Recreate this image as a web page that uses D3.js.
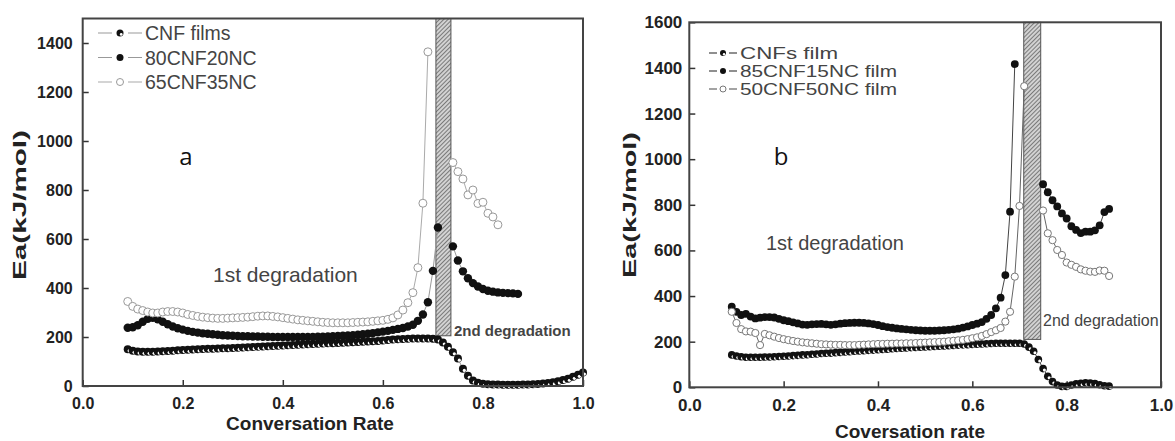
<!DOCTYPE html>
<html>
<head>
<meta charset="utf-8">
<script src="https://cdn.jsdelivr.net/npm/d3@7"></script>
<style>
body { margin: 0; background: #fff; }
svg { display: block; }
text { font-family: "Liberation Sans", Arial, sans-serif; }
</style>
</head>
<body>
<svg id="chart" width="1175" height="441"></svg>
<script>
// ---- data ----
var xTicks = [0, 0.2, 0.4, 0.6, 0.8, 1.0];
var yTicksA = [0, 200, 400, 600, 800, 1000, 1200, 1400];
var yTicksB = [0, 200, 400, 600, 800, 1000, 1200, 1400, 1600];

var namesA = ["CNF films", "80CNF20NC", "65CNF35NC"];
var namesB = ["CNFs film", "85CNF15NC film", "50CNF50NC film"];

// panel a
var cnfA = [[0.09,150],[0.10,144],[0.11,141],[0.12,140],[0.13,140],[0.14,140],[0.15,141],[0.16,142],[0.17,143],[0.18,144],
  [0.19,146],[0.20,147],[0.21,148],[0.22,149],[0.23,150],[0.24,151],[0.25,152],[0.26,152],[0.27,153],[0.28,154],
  [0.29,154],[0.30,155],[0.31,156],[0.32,157],[0.33,158],[0.34,159],[0.35,160],[0.36,161],[0.37,162],[0.38,163],
  [0.39,164],[0.40,165],[0.41,166],[0.42,167],[0.43,168],[0.44,169],[0.45,170],[0.46,171],[0.47,172],[0.48,173],
  [0.49,174],[0.50,175],[0.51,176],[0.52,177],[0.53,178],[0.54,179],[0.55,180],[0.56,181],[0.57,182],[0.58,183],
  [0.59,184],[0.60,186],[0.61,188],[0.62,190],[0.63,191],[0.64,192],[0.65,193],[0.66,194],[0.67,194],[0.68,194],
  [0.69,194],[0.70,193],[0.71,190],[0.72,178],[0.73,160],[0.74,138],[0.75,112],[0.76,70],[0.77,42],[0.78,22],
  [0.79,13],[0.80,9],[0.81,7],[0.82,6],[0.83,6],[0.84,5],[0.85,5],[0.86,5],[0.87,5],[0.88,6],
  [0.89,6],[0.90,7],[0.91,8],[0.92,10],[0.93,12],[0.94,15],[0.95,19],[0.96,24],[0.97,30],[0.98,38],
  [0.99,46],[1.00,55]];

var ncA = [[0.09,238],[0.10,240],[0.11,248],[0.12,262],[0.13,274],[0.14,278],[0.15,272],[0.16,262],[0.17,252],[0.18,243],
  [0.19,236],[0.20,230],[0.21,225],[0.22,221],[0.23,218],[0.24,215],[0.25,213],[0.26,211],[0.27,209],[0.28,207],
  [0.29,206],[0.30,205],[0.31,204],[0.32,203],[0.33,203],[0.34,202],[0.35,202],[0.36,201],[0.37,201],[0.38,200],
  [0.39,200],[0.40,200],[0.41,200],[0.42,200],[0.43,200],[0.44,200],[0.45,200],[0.46,200],[0.47,201],[0.48,201],
  [0.49,202],[0.50,203],[0.51,204],[0.52,205],[0.53,206],[0.54,207],[0.55,209],[0.56,211],[0.57,213],[0.58,216],
  [0.59,219],[0.60,222],[0.61,225],[0.62,229],[0.63,233],[0.64,237],[0.65,243],[0.66,250],[0.67,266],[0.68,292],
  [0.69,342],[0.70,470],[0.71,647],
  [0.74,570],[0.75,512],[0.76,468],[0.77,440],[0.78,420],[0.79,406],[0.80,396],[0.81,389],[0.82,385],[0.83,382],
  [0.84,380],[0.85,379],[0.86,378],[0.87,376]];

var opA = [[0.09,345],[0.10,325],[0.11,314],[0.12,308],[0.13,302],[0.14,298],[0.15,298],[0.16,302],[0.17,304],[0.18,304],
  [0.19,302],[0.20,298],[0.21,292],[0.22,288],[0.23,284],[0.24,281],[0.25,279],[0.26,277],[0.27,276],[0.28,276],
  [0.29,277],[0.30,278],[0.31,279],[0.32,280],[0.33,281],[0.34,283],[0.35,285],[0.36,286],[0.37,286],[0.38,284],
  [0.39,282],[0.40,279],[0.41,276],[0.42,273],[0.43,270],[0.44,268],[0.45,266],[0.46,264],[0.47,262],[0.48,260],
  [0.49,259],[0.50,258],[0.51,258],[0.52,258],[0.53,258],[0.54,259],[0.55,260],[0.56,261],[0.57,262],[0.58,264],
  [0.59,266],[0.60,268],[0.61,272],[0.62,278],[0.63,290],[0.64,310],[0.65,340],[0.66,381],[0.67,483],[0.68,746],
  [0.69,1364],
  [0.74,912],[0.75,875],[0.76,845],[0.77,780],[0.78,800],[0.79,745],[0.80,750],[0.81,705],[0.82,690],[0.83,658]];

// panel b
var cnfB = [[0.09,142],[0.10,137],[0.11,134],[0.12,132],[0.13,132],[0.14,132],[0.15,132],[0.16,133],[0.17,133],[0.18,134],
  [0.19,135],[0.20,136],[0.21,137],[0.22,139],[0.23,140],[0.24,142],[0.25,143],[0.26,145],[0.27,146],[0.28,148],
  [0.29,149],[0.30,150],[0.31,152],[0.32,153],[0.33,155],[0.34,156],[0.35,158],[0.36,159],[0.37,160],[0.38,162],
  [0.39,163],[0.40,165],[0.41,166],[0.42,167],[0.43,169],[0.44,170],[0.45,171],[0.46,172],[0.47,174],[0.48,175],
  [0.49,176],[0.50,177],[0.51,178],[0.52,179],[0.53,180],[0.54,181],[0.55,182],[0.56,183],[0.57,185],[0.58,186],
  [0.59,187],[0.60,188],[0.61,189],[0.62,190],[0.63,191],[0.64,192],[0.65,193],[0.66,193],[0.67,193],[0.68,193],
  [0.69,193],[0.70,193],[0.71,190],[0.72,176],[0.73,158],[0.74,122],[0.75,82],[0.76,48],[0.77,25],[0.78,10],
  [0.79,4],[0.80,4],[0.81,10],[0.82,15],[0.83,18],[0.84,20],[0.85,19],[0.86,16],[0.87,11],[0.88,7],[0.89,5]];

var ncB = [[0.09,353],[0.10,331],[0.11,317],[0.12,322],[0.13,310],[0.14,302],[0.15,305],[0.16,308],[0.17,308],[0.18,306],
  [0.19,300],[0.20,294],[0.21,290],[0.22,285],[0.23,280],[0.24,275],[0.25,274],[0.26,276],[0.27,277],[0.28,278],
  [0.29,276],[0.30,274],[0.31,276],[0.32,279],[0.33,281],[0.34,282],[0.35,283],[0.36,283],[0.37,282],[0.38,280],
  [0.39,277],[0.40,273],[0.41,268],[0.42,264],[0.43,261],[0.44,258],[0.45,256],[0.46,254],[0.47,252],[0.48,250],
  [0.49,249],[0.50,248],[0.51,248],[0.52,248],[0.53,249],[0.54,250],[0.55,252],[0.56,254],[0.57,257],[0.58,262],
  [0.59,267],[0.60,273],[0.61,279],[0.62,286],[0.63,300],[0.64,317],[0.65,346],[0.66,393],[0.67,492],[0.68,770],
  [0.69,1417],
  [0.75,890],[0.76,855],[0.77,820],[0.78,793],[0.79,762],[0.80,740],[0.81,706],[0.82,690],[0.83,676],[0.84,682],
  [0.85,682],[0.86,688],[0.87,710],[0.88,768],[0.89,782]];

var opB = [[0.09,331],[0.10,282],[0.11,255],[0.12,245],[0.13,244],[0.14,238],[0.15,185],[0.16,234],[0.17,228],[0.18,222],
  [0.19,216],[0.20,211],[0.21,207],[0.22,203],[0.23,200],[0.24,197],[0.25,195],[0.26,193],[0.27,191],[0.28,189],
  [0.29,188],[0.30,187],[0.31,186],[0.32,186],[0.33,185],[0.34,185],[0.35,185],[0.36,186],[0.37,187],[0.38,188],
  [0.39,189],[0.40,190],[0.41,190],[0.42,191],[0.43,191],[0.44,192],[0.45,192],[0.46,193],[0.47,193],[0.48,194],
  [0.49,195],[0.50,196],[0.51,197],[0.52,198],[0.53,199],[0.54,200],[0.55,202],[0.56,204],[0.57,206],[0.58,208],
  [0.59,211],[0.60,215],[0.61,219],[0.62,225],[0.63,233],[0.64,242],[0.65,250],[0.66,260],[0.67,288],[0.68,331],
  [0.69,485],[0.70,795],[0.71,1320],
  [0.75,775],[0.76,675],[0.77,645],[0.78,602],[0.79,580],[0.80,547],[0.81,537],[0.82,528],[0.83,517],[0.84,511],
  [0.85,507],[0.86,506],[0.87,512],[0.88,511],[0.89,488]];

// shaded transition band: [x0, x1, bottom value]
var bandA = [0.706, 0.736, 205];
var bandB = [0.709, 0.745, 210];

var svg = d3.select("#chart");
var defs = svg.append("defs");
var pat = defs.append("pattern").attr("id", "hatch")
  .attr("patternUnits", "userSpaceOnUse")
  .attr("width", 3).attr("height", 3)
  .attr("patternTransform", "rotate(45)");
pat.append("rect").attr("width", 3).attr("height", 3).attr("fill", "#d2d2d2");
pat.append("line").attr("x1", 0.5).attr("y1", 0).attr("x2", 0.5).attr("y2", 3)
  .attr("stroke", "#7a7a7a").attr("stroke-width", 1);

function marker(sel, kind, r, stroke) {
  if (kind == "open") {
    sel.append("circle").attr("r", r).attr("fill", "#fff").attr("stroke", stroke).attr("stroke-width", 1);
  } else if (kind == "half") {
    // black dot with a small white crescent
    sel.append("circle").attr("r", r).attr("fill", "#111");
    sel.append("circle").attr("cx", r * 0.35).attr("cy", r * 0.4).attr("r", r * 0.4).attr("fill", "#fff");
  } else {
    sel.append("circle").attr("r", r).attr("fill", "#111");
  }
}

// break a series where points jump over the shaded band
function pieces(data) {
  var out = [[data[0]]];
  for (var i = 1; i < data.length; i++) {
    if (data[i][0] - data[i - 1][0] > 0.025) out.push([]);
    out[out.length - 1].push(data[i]);
  }
  return out;
}

function drawPanel(p) {
  var x = d3.scaleLinear().domain([0, 1]).range([p.left, p.right]);
  var y = d3.scaleLinear().domain([0, p.yMax]).range([p.bottom, p.top]);
  var g = svg.append("g");

  // band
  g.append("rect")
    .attr("x", x(p.band[0])).attr("width", x(p.band[1]) - x(p.band[0]))
    .attr("y", y(p.yMax)).attr("height", y(p.band[2]) - y(p.yMax))
    .attr("fill", "url(#hatch)").attr("stroke", "#555").attr("stroke-width", 1);

  // axes, ticks inward
  var ax = g.append("g").attr("transform", "translate(0," + p.bottom + ")")
    .call(d3.axisBottom(x).tickValues(xTicks).tickFormat(d3.format(".1f"))
      .tickSizeInner(-6).tickSizeOuter(0).tickPadding(12));
  var ay = g.append("g").attr("transform", "translate(" + p.left + ",0)")
    .call(d3.axisLeft(y).tickValues(p.yTicks).tickFormat(d3.format("d"))
      .tickSizeInner(-6).tickSizeOuter(0).tickPadding(p.yPad));
  [ax, ay].forEach(function (a) {
    a.select(".domain").remove();
    a.selectAll(".tick line").attr("stroke", "#333").attr("stroke-width", 1.5);
    a.selectAll(".tick text").attr("fill", "#222").style("font-size", p.tickSize + "px").style("font-weight", "bold")
      .style("font-family", "'Liberation Sans', Arial, sans-serif");
  });

  // series: lines first, then markers
  var line = d3.line().x(function (d) { return x(d[0]); }).y(function (d) { return y(d[1]); });
  p.series.forEach(function (s) {
    pieces(s.data).forEach(function (seg) {
      g.append("path").datum(seg).attr("d", line)
        .attr("fill", "none").attr("stroke", s.line).attr("stroke-width", 1);
    });
  });
  p.series.forEach(function (s) {
    g.append("g").selectAll("g").data(s.data).enter().append("g")
      .attr("transform", function (d) { return "translate(" + x(d[0]) + "," + y(d[1]) + ")"; })
      .each(function () { marker(d3.select(this), s.kind, s.r, s.stroke); });
  });

  // frame
  g.append("rect").attr("x", p.left).attr("y", p.top)
    .attr("width", p.right - p.left).attr("height", p.bottom - p.top)
    .attr("fill", "none").attr("stroke", "#444").attr("stroke-width", 2);

  // legend
  p.series.forEach(function (s, i) {
    var ly = p.leg.y + i * p.leg.dy;
    var cx = (p.leg.x0 + p.leg.x3) / 2;
    var lg = g.append("g");
    lg.append("line").attr("x1", p.leg.x0).attr("x2", p.leg.x3).attr("y1", ly).attr("y2", ly)
      .attr("stroke", s.line).attr("stroke-width", 1.2);
    lg.append("rect").attr("x", cx - p.leg.gap).attr("y", ly - 3)
      .attr("width", 2 * p.leg.gap).attr("height", 6).attr("fill", "#fff");
    marker(lg.append("g").attr("transform", "translate(" + cx + "," + ly + ")"), s.kind, p.leg.r, s.stroke);
    var t = lg.append("text").attr("x", p.leg.tx).attr("y", ly).attr("dy", "0.36em")
      .attr("fill", "#444").style("font-size", p.leg.size + "px").text(s.name);
    if (p.leg.len) t.attr("textLength", p.leg.len[i]).attr("lengthAdjust", "spacingAndGlyphs");
  });

  // labels
  g.append("text").attr("x", p.xt[0]).attr("y", p.xt[1]).attr("text-anchor", "middle")
    .style("font-size", p.titleSize + "px").style("font-weight", "bold").attr("fill", "#222").text(p.xTitle);
  g.append("text").attr("transform", "translate(" + p.yt[0] + "," + p.yt[1] + ") rotate(-90)")
    .attr("text-anchor", "middle").attr("dy", "0.36em")
    .attr("textLength", p.yt[2]).attr("lengthAdjust", "spacingAndGlyphs")
    .style("font-size", p.titleSize + "px").style("font-weight", "bold").attr("fill", "#222").text("Ea(kJ/mol)");
  g.append("text").attr("x", p.tag[0]).attr("y", p.tag[1]).attr("text-anchor", "middle")
    .style("font-family", "'Open Sans', sans-serif").style("font-size", "24px").attr("fill", "#111").text(p.tag[2]);
  g.append("text").attr("x", p.first[0]).attr("y", p.first[1])
    .style("font-size", p.first[2] + "px").attr("fill", "#444").text("1st degradation");
  g.append("text").attr("x", p.second[0]).attr("y", p.second[1])
    .style("font-size", p.second[2] + "px").style("font-weight", p.second[3]).attr("fill", "#444").text("2nd degradation");
}

drawPanel({
  left: 82.7, right: 583, top: 18.5, bottom: 386, yMax: 1500, yTicks: yTicksA, yPad: 10, tickSize: 16,
  band: bandA,
  series: [
    { name: namesA[0], data: cnfA, kind: "half", line: "#999", stroke: "#111", r: 4 },
    { name: namesA[1], data: ncA, kind: "filled", line: "#999", stroke: "#111", r: 4.2 },
    { name: namesA[2], data: opA, kind: "open", line: "#aaa", stroke: "#999", r: 4 }
  ],
  leg: { x0: 98, x3: 142, gap: 8, y: 33, dy: 24.5, r: 3.5, tx: 145, size: 19.5 },
  xTitle: "Conversation Rate", xt: [310, 430], yt: [19, 205, 150], titleSize: 19,
  tag: [186, 165, "a"], first: [213, 282, 21], second: [454, 336, 15, "bold"]
});

drawPanel({
  left: 689.3, right: 1161, top: 22.3, bottom: 387.3, yMax: 1600, yTicks: yTicksB, yPad: 7, tickSize: 17,
  band: bandB,
  series: [
    { name: namesB[0], data: cnfB, kind: "half", line: "#444", stroke: "#111", r: 3.8 },
    { name: namesB[1], data: ncB, kind: "filled", line: "#444", stroke: "#111", r: 3.9 },
    { name: namesB[2], data: opB, kind: "open", line: "#666", stroke: "#777", r: 3.6 }
  ],
  leg: { x0: 709, x3: 737, gap: 6, y: 53, dy: 18, r: 3, tx: 740, size: 16, len: [98, 157, 157] },
  xTitle: "Coversation rate", xt: [910, 438], yt: [629, 205, 146], titleSize: 19,
  tag: [781, 165, "b"], first: [766, 250, 20], second: [1043, 326, 16, "normal"]
});
</script>
</body>
</html>
